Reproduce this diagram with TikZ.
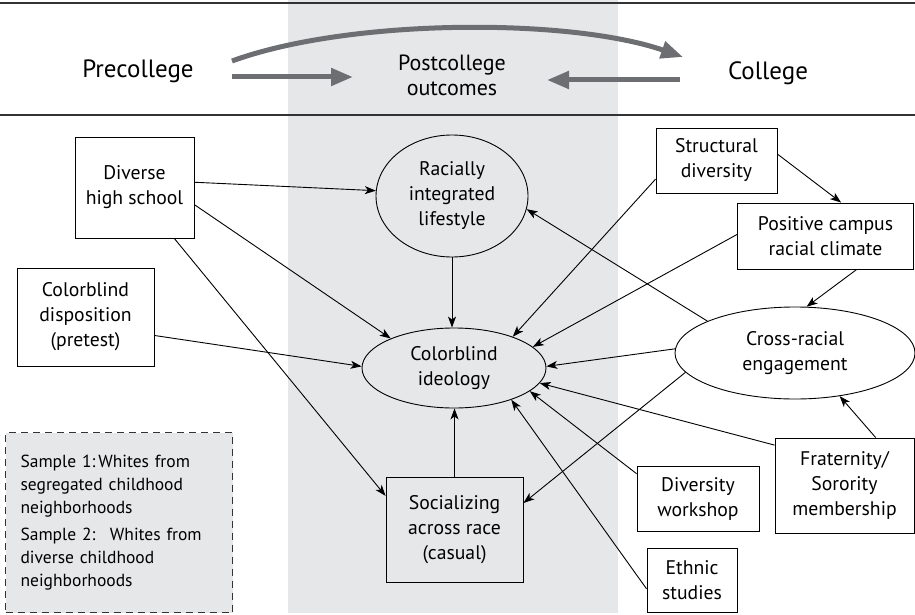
\documentclass[tikz,border=0pt]{standalone}
\usepackage{fontspec}
\setmainfont{PT Sans}
\usetikzlibrary{arrows.meta,shapes.geometric}
\definecolor{band}{HTML}{E6E7E8}
\definecolor{garrow}{HTML}{6D6E71}
\definecolor{rule}{HTML}{333333}
\begin{document}
\begin{tikzpicture}[x=1pt,y=-1pt,
  rbox/.style={draw, line width=0.9pt, align=center, inner sep=0pt, font=\fontsize{19.7}{25}\selectfont},
  ell/.style={draw, ellipse, line width=0.9pt, align=center, inner sep=0pt, font=\fontsize{19.7}{25}\selectfont},
  conn/.style={line width=0.9pt, -{Stealth[length=11pt,width=8pt,inset=3pt]}},
  bigarrow/.style={draw=garrow, line width=5pt, -{Triangle[length=22pt,width=17pt]}},
  head/.style={font=\fontsize{25}{25}\selectfont, align=center, inner sep=0pt}
]
\useasboundingbox (0,0) rectangle (915,615);
\fill[band] (288,0) rectangle (618,613);
\draw[rule, line width=1.4pt] (0,3) -- (915,3);
\draw[rule, line width=1.4pt] (0,115) -- (915,115);

% header
\node[head] (pre) at (138,71) {Precollege};
\node[head, font=\fontsize{22}{25}\selectfont] (post) at (452,75) {Postcollege\\outcomes};
\node[head] (col) at (768,73) {College};
\coordinate (a1s) at (232,77);
\coordinate (a1e) at (353,77);
\coordinate (a2s) at (680,80);
\coordinate (a2e) at (547,80);
\coordinate (a3s) at (232,61);
\coordinate (a3e) at (683,57);
\draw[bigarrow] (a1s) -- (a1e);
\draw[bigarrow] (a2s) -- (a2e);
\draw[bigarrow] (a3s) .. controls (350,18) and (570,18) .. (a3e);

% nodes
\node[rbox, minimum width=119pt, minimum height=101pt] (dhs) at (134.5,187.5) {Diverse\\high school};
\node[rbox, minimum width=137pt, minimum height=98pt] (cbd) at (85.5,317) {Colorblind\\disposition\\(pretest)};
\node[draw=rule, dashed, dash pattern=on 7pt off 5pt, line width=1.1pt, fill=band, anchor=north west,
      minimum width=227pt, minimum height=180pt, text width=197pt, inner xsep=15pt, inner ysep=0pt,
      align=left, font=\fontsize{17.5}{23}\selectfont] (smp) at (5,432)
  {Sample 1:\,Whites from\\segregated childhood\\neighborhoods\\[4pt]Sample 2:~ Whites from\\diverse childhood\\neighborhoods};
\node[ell, minimum width=152pt, minimum height=122pt] (ril) at (452,196) {Racially\\integrated\\lifestyle};
\node[ell, minimum width=184pt, minimum height=80pt] (cbi) at (454,368) {Colorblind\\ideology};
\node[rbox, minimum width=137pt, minimum height=105pt] (soc) at (454.5,529.5) {Socializing\\across race\\(casual)};
\node[rbox, minimum width=121pt, minimum height=65pt] (sd) at (716.5,160.5) {Structural\\diversity};
\node[rbox, minimum width=176pt, minimum height=66pt] (pcrc) at (825.5,236) {Positive campus\\racial climate};
\node[ell, minimum width=240pt, minimum height=92pt] (cre) at (795,353) {Cross-racial\\engagement};
\node[rbox, minimum width=122pt, minimum height=65pt] (dw) at (698,498.5) {Diversity\\workshop};
\node[rbox, minimum width=139pt, minimum height=95pt] (fsm) at (844.5,485.5) {Fraternity/\\Sorority\\membership};
\node[rbox, minimum width=90pt, minimum height=64pt] (es) at (692,580) {Ethnic\\studies};

% connectors
\draw[conn] (dhs.5) -- (ril.176);
\draw[conn] (dhs.-16) -- (cbi.155);
\draw[conn] (dhs.-52) -- (soc.154);
\draw[conn] (cbd.-15) -- (cbi.179);
\draw[conn] (ril.south) -- (ril.south |- cbi.north);
\draw[conn] (soc.north) -- (soc.north |- cbi.south);
\draw[conn] (sd.197) -- (cbi.28);
\draw[conn] (sd.6) -- (pcrc.65);
\draw[conn] (pcrc.-47) -- (cre.76);
\draw[conn] (pcrc.179) -- (cbi.15);
\draw[conn] (cre.160) -- (ril.-10);
\draw[conn] (cre.178) -- (cbi.1);
\draw[conn] (cre.190) -- (soc.21);
\draw[conn] (fsm.150) -- (cbi.-10);
\draw[conn] (fsm.57) -- (cre.-44);
\draw[conn] (dw.158) -- (cbi.-17);
\draw[conn] (es.191) -- (cbi.-29);
\end{tikzpicture}
\end{document}
